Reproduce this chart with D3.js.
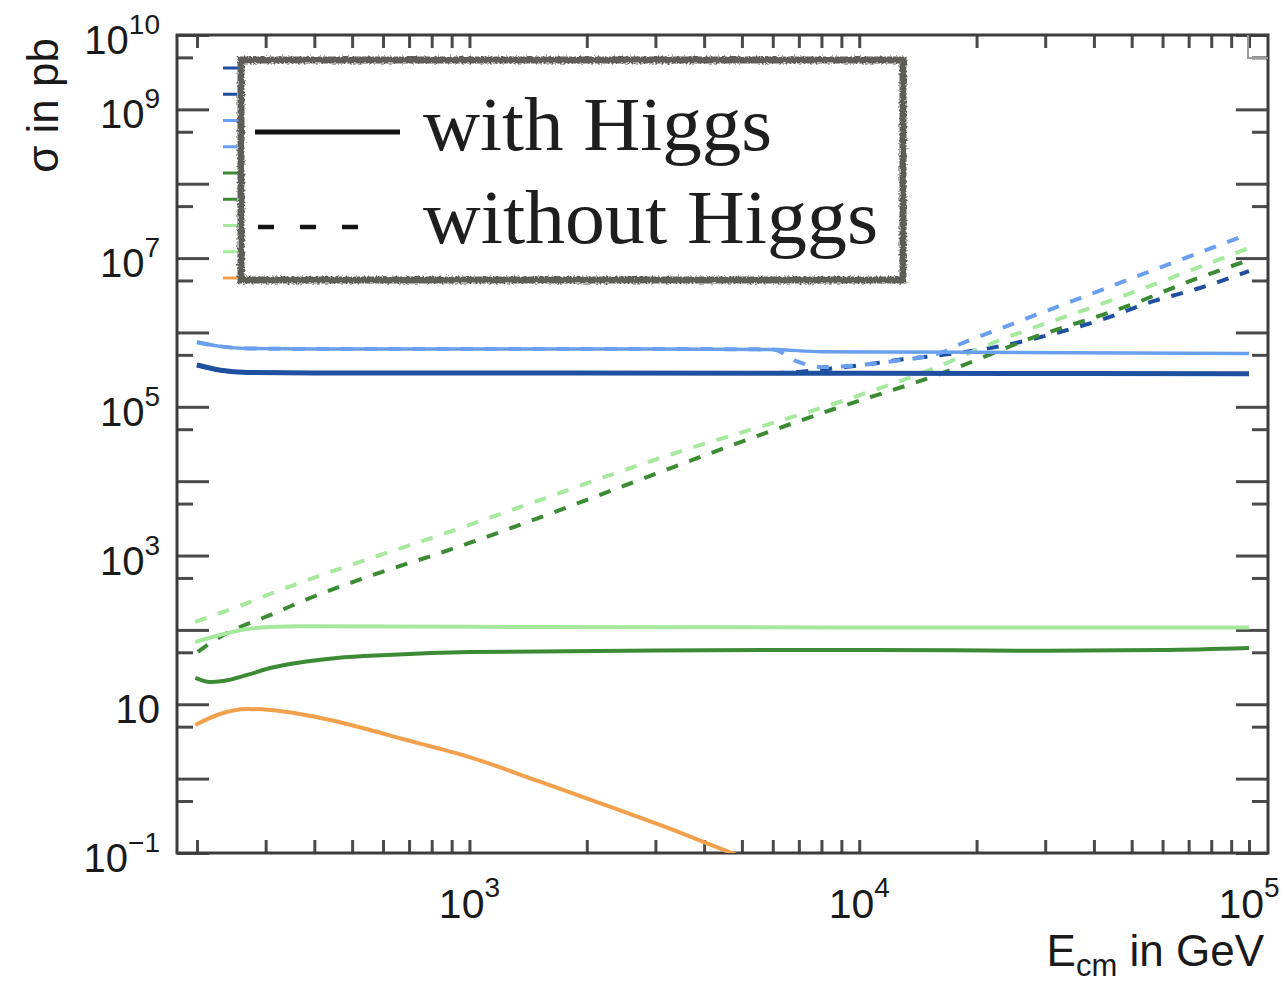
<!DOCTYPE html>
<html>
<head>
<meta charset="utf-8">
<script src="https://cdn.jsdelivr.net/npm/d3@7"></script>
<style>
  body { margin: 0; background: #fff; }
  svg { display: block; }
</style>
</head>
<body>
<svg id="chart" width="1285" height="984"></svg>
<script>
// Cross sections (pb) versus centre-of-mass energy (GeV)

// dark blue channel
const darkBlueWithE = [200, 230, 270, 400, 1000, 10000, 100000];
const darkBlueWithS = [3.65e5, 3.1e5, 2.9e5, 2.85e5, 2.85e5, 2.83e5, 2.78e5];
const darkBlueWithoutE = [200, 230, 270, 400, 1000, 3000, 6000, 7000, 8000, 9300, 10800, 12300, 14300, 16400, 21800, 32400, 43200, 56000, 74800, 100000];
const darkBlueWithoutS = [3.65e5, 3.1e5, 2.9e5, 2.85e5, 2.85e5, 2.85e5, 2.85e5, 2.95e5, 3.15e5, 3.45e5, 3.8e5, 4.2e5, 4.6e5, 5.0e5, 6.2e5, 1.0e6, 1.57e6, 2.57e6, 3.96e6, 6.7e6];

// light blue channel
const lightBlueWithE = [200, 230, 270, 400, 1000, 3000, 6000, 8000, 20000, 100000];
const lightBlueWithS = [7.4e5, 6.5e5, 6.1e5, 6.0e5, 6.0e5, 6.0e5, 5.9e5, 5.5e5, 5.4e5, 5.2e5];
const lightBlueWithoutE = [200, 230, 270, 400, 1000, 3000, 6000, 6900, 8000, 9300, 10800, 12300, 14300, 16400, 18400, 21000, 40000, 60000, 100000];
const lightBlueWithoutS = [7.4e5, 6.5e5, 6.1e5, 6.0e5, 6.0e5, 6.0e5, 5.9e5, 4.13e5, 3.43e5, 3.53e5, 3.8e5, 4.13e5, 4.6e5, 5.47e5, 7.2e5, 9.4e5, 3.41e6, 7.7e6, 2.11e7];

// dark green channel
const darkGreenWithE = [198, 216, 233, 269, 308, 374, 457, 614, 1000, 3000, 10000, 30000, 60000, 100000];
const darkGreenWithS = [22.6, 19.9, 20.5, 24.8, 30.7, 37.0, 41.9, 46.0, 50.5, 53.0, 53.7, 52.5, 53.5, 57.0];
const darkGreenWithoutE = [201, 229, 258, 295, 390, 1000, 8463, 16400, 27750, 48100, 71900, 100000];
const darkGreenWithoutS = [50.5, 80.3, 109.4, 144.6, 268.6, 1476, 9.06e4, 2.85e5, 8.43e5, 2.2e6, 5.08e6, 9.44e6];

// light green channel
const lightGreenWithE = [198, 229, 269, 308, 370, 1000, 10000, 100000];
const lightGreenWithS = [68.8, 85.4, 102.9, 109.5, 112, 110, 108, 108];
const lightGreenWithoutE = [198, 269, 308, 1000, 3083, 10040, 15190, 22030, 43200, 73600, 100000];
const lightGreenWithoutS = [127.8, 230, 304, 2576, 2.05e4, 1.44e5, 3.13e5, 7.22e5, 2.57e6, 7.36e6, 1.37e7];

// orange channel (Higgs only)
const orangeWithE = [198, 229, 269, 308, 367, 439, 556, 675, 825, 1000, 1498, 2161, 3083, 4706, 7047];
const orangeWithS = [5.27, 7.40, 8.64, 8.37, 7.40, 6.15, 4.51, 3.41, 2.58, 1.95, 0.93, 0.47, 0.238, 0.1, 0.0454];

// axis labelling
const yLabelValues = [1e10, 1e9, 1e7, 1e5, 1e3, 10, 0.1];
const yLabelBase = ["10", "10", "10", "10", "10", "10", "10"];
const yLabelExp = ["10", "9", "7", "5", "3", "", "\u22121"];
const xLabelValues = [1e3, 1e4, 1e5];
const xLabelExp = ["3", "4", "5"];
const legendLabels = ["with Higgs", "without Higgs"];

const colors = {
  darkBlue: "#1f4f9f",
  lightBlue: "#6a9ff0",
  darkGreen: "#3d8a34",
  lightGreen: "#a6e89e",
  orange: "#f3a04d"
};

const series = [
  { E: darkBlueWithoutE, S: darkBlueWithoutS, color: colors.darkBlue, dashed: true, w: 4 },
  { E: lightBlueWithoutE, S: lightBlueWithoutS, color: colors.lightBlue, dashed: true, w: 4 },
  { E: lightGreenWithoutE, S: lightGreenWithoutS, color: colors.lightGreen, dashed: true, w: 4 },
  { E: darkGreenWithoutE, S: darkGreenWithoutS, color: colors.darkGreen, dashed: true, w: 4 },
  { E: lightBlueWithE, S: lightBlueWithS, color: colors.lightBlue, dashed: false, w: 3.5 },
  { E: darkBlueWithE, S: darkBlueWithS, color: colors.darkBlue, dashed: false, w: 5 },
  { E: lightGreenWithE, S: lightGreenWithS, color: colors.lightGreen, dashed: false, w: 4 },
  { E: darkGreenWithE, S: darkGreenWithS, color: colors.darkGreen, dashed: false, w: 4 },
  { E: orangeWithE, S: orangeWithS, color: colors.orange, dashed: false, w: 4 }
];

const svg = d3.select("#chart");
svg.append("rect").attr("width", 1285).attr("height", 984).attr("fill", "#fff");

const plot = { left: 177, right: 1268, top: 35, bottom: 853 };

const x = d3.scaleLog().domain([177.7, 111870]).range([plot.left, plot.right]);
const y = d3.scaleLog().domain([0.1, 1e10]).range([plot.bottom, plot.top]);

const defs = svg.append("defs");
defs.append("clipPath").attr("id", "plotClip")
  .append("rect")
  .attr("x", plot.left).attr("y", plot.top)
  .attr("width", plot.right - plot.left).attr("height", plot.bottom - plot.top);

const rough = defs.append("filter").attr("id", "rough")
  .attr("x", "-5%").attr("y", "-10%").attr("width", "110%").attr("height", "120%");
rough.append("feTurbulence").attr("type", "fractalNoise").attr("baseFrequency", 0.5)
  .attr("numOctaves", 2).attr("seed", 4).attr("result", "noise");
rough.append("feDisplacementMap").attr("in", "SourceGraphic").attr("in2", "noise")
  .attr("scale", 5).attr("xChannelSelector", "R").attr("yChannelSelector", "G");

// tick positions
const xTicks = [];
[100, 1000, 10000].forEach(d => {
  for (let m = 1; m <= 9; m++) {
    const v = m * d;
    if (v >= 177.7 && v <= 111870) xTicks.push(v);
  }
});
xTicks.push(1e5);
const yMajor = d3.range(-1, 11).map(e => Math.pow(10, e));
const yMinor = d3.range(-1, 10).map(e => 5 * Math.pow(10, e));

const tickColor = "#4a4a4a";
function styleAxis(g) {
  g.select(".domain").remove();
  g.selectAll(".tick line").attr("stroke", tickColor).attr("stroke-width", 3);
  g.selectAll(".tick text").remove();
}

svg.append("g").attr("transform", `translate(0,${plot.bottom})`)
  .call(d3.axisBottom(x).tickValues(xTicks).tickSize(-13).tickFormat("")).call(styleAxis);
svg.append("g").attr("transform", `translate(0,${plot.top})`)
  .call(d3.axisTop(x).tickValues(xTicks).tickSize(-13).tickFormat("")).call(styleAxis);
svg.append("g").attr("transform", `translate(${plot.left},0)`)
  .call(d3.axisLeft(y).tickValues(yMajor).tickSize(-32).tickFormat("")).call(styleAxis);
svg.append("g").attr("transform", `translate(${plot.left},0)`)
  .call(d3.axisLeft(y).tickValues(yMinor).tickSize(-16).tickFormat("")).call(styleAxis);
svg.append("g").attr("transform", `translate(${plot.right},0)`)
  .call(d3.axisRight(y).tickValues(yMajor).tickSize(-32).tickFormat("")).call(styleAxis);
svg.append("g").attr("transform", `translate(${plot.right},0)`)
  .call(d3.axisRight(y).tickValues(yMinor).tickSize(-16).tickFormat("")).call(styleAxis);

// frame
svg.append("rect")
  .attr("x", plot.left).attr("y", plot.top)
  .attr("width", plot.right - plot.left).attr("height", plot.bottom - plot.top)
  .attr("fill", "none").attr("stroke", "#3c3c3c").attr("stroke-width", 3);

// small corner box
svg.append("path")
  .attr("d", `M1248,${plot.top}V58H${plot.right}`)
  .attr("fill", "none").attr("stroke", "#9a9a9a").attr("stroke-width", 2);

// y tick labels
const sans = "'Liberation Sans', Arial, Helvetica, sans-serif";
const yl = svg.append("g").attr("font-family", sans).attr("fill", "#1a1a1a");
yLabelValues.forEach((v, i) => {
  const t = yl.append("text")
    .attr("x", 160).attr("y", y(v) + 19)
    .attr("text-anchor", "end").attr("font-size", 40);
  t.append("tspan").text(yLabelBase[i]);
  if (yLabelExp[i]) {
    t.append("tspan").attr("dy", -20).attr("font-size", 28).text(yLabelExp[i]);
  }
});

// x tick labels
const xl = svg.append("g").attr("font-family", sans).attr("fill", "#1a1a1a");
xLabelValues.forEach((v, i) => {
  const t = xl.append("text")
    .attr("x", x(v)).attr("y", 918)
    .attr("text-anchor", "middle").attr("font-size", 41);
  t.append("tspan").text("10");
  t.append("tspan").attr("dy", -21).attr("font-size", 28).text(xLabelExp[i]);
});

// axis titles
svg.append("text")
  .attr("transform", "translate(58,38) rotate(-90)")
  .attr("text-anchor", "end").attr("font-family", sans).attr("font-size", 44)
  .attr("fill", "#1a1a1a").text("\u03c3 in pb");

const xt = svg.append("text")
  .attr("x", 1264).attr("y", 966).attr("text-anchor", "end")
  .attr("font-family", sans).attr("font-size", 44).attr("fill", "#1a1a1a");
xt.append("tspan").text("E");
xt.append("tspan").attr("dy", 10).attr("font-size", 31).text("cm");
xt.append("tspan").attr("dy", -10).text(" in GeV");

// curves
const line = d3.line()
  .x(d => x(d[0]))
  .y(d => y(d[1]))
  .curve(d3.curveMonotoneX);

const curves = svg.append("g").attr("clip-path", "url(#plotClip)");
series.forEach(s => {
  curves.append("path")
    .datum(s.E.map((e, i) => [e, s.S[i]]))
    .attr("d", line)
    .attr("fill", "none")
    .attr("stroke", s.color)
    .attr("stroke-width", s.w)
    .attr("stroke-linecap", "butt")
    .attr("stroke-dasharray", s.dashed ? "12,12" : null);
});

// entry stubs of the colour key, mostly hidden behind the overlay box
const stubColors = [colors.darkBlue, colors.darkBlue, colors.lightBlue, colors.lightBlue,
  colors.darkGreen, colors.darkGreen, colors.lightGreen, colors.lightGreen, colors.orange];
const stubDashed = [false, true, false, true, false, true, false, true, false];
const stubY = d3.scalePoint().domain(d3.range(stubColors.length)).range([68, 278]);
svg.append("g").selectAll("line").data(stubColors).join("line")
  .attr("x1", 223).attr("x2", 300)
  .attr("y1", (d, i) => stubY(i)).attr("y2", (d, i) => stubY(i))
  .attr("stroke", d => d)
  .attr("stroke-width", 3)
  .attr("stroke-dasharray", (d, i) => stubDashed[i] ? "14,10" : null);

// overlay key: solid vs dashed
const key = svg.append("g");
key.append("rect")
  .attr("x", 241).attr("y", 60).attr("width", 662).attr("height", 220)
  .attr("fill", "#fff");
key.append("rect")
  .attr("x", 241).attr("y", 60).attr("width", 662).attr("height", 220)
  .attr("fill", "none").attr("stroke", "#5e5d59").attr("stroke-width", 7)
  .attr("filter", "url(#rough)");
key.append("line")
  .attr("x1", 255).attr("x2", 400).attr("y1", 132).attr("y2", 132)
  .attr("stroke", "#141414").attr("stroke-width", 5);
key.append("line")
  .attr("x1", 258).attr("x2", 362).attr("y1", 227).attr("y2", 227)
  .attr("stroke", "#141414").attr("stroke-width", 4.5)
  .attr("stroke-dasharray", "16,26");
const serif = "'Liberation Serif', 'Times New Roman', serif";
key.append("text").attr("x", 423).attr("y", 150)
  .attr("font-family", serif).attr("font-size", 76).attr("fill", "#1e1e1e")
  .attr("textLength", 349).attr("lengthAdjust", "spacingAndGlyphs")
  .text(legendLabels[0]);
key.append("text").attr("x", 423).attr("y", 243)
  .attr("font-family", serif).attr("font-size", 76).attr("fill", "#1e1e1e")
  .attr("textLength", 455).attr("lengthAdjust", "spacingAndGlyphs")
  .text(legendLabels[1]);
</script>
</body>
</html>
